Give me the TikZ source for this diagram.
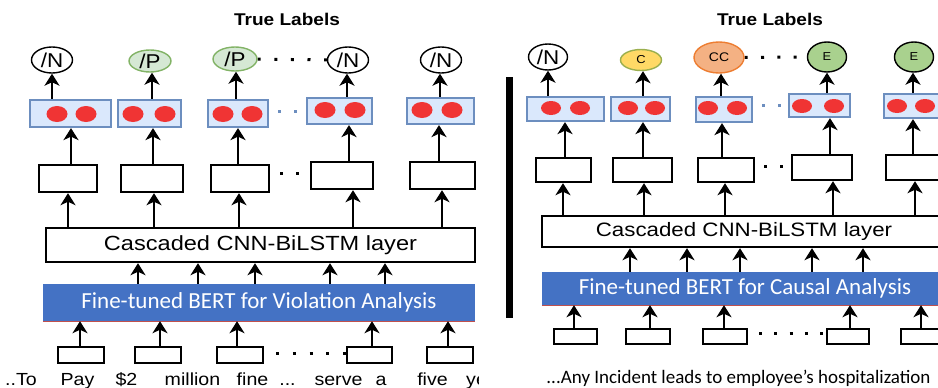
\documentclass[tikz,border=0pt]{standalone}
\usepackage{fontspec}
\setmainfont{Liberation Sans}
\newfontfamily\calibri{Carlito}
\usepackage{graphicx}
\usetikzlibrary{arrows.meta,shapes.geometric}
\pgfdeclarelayer{back}
\pgfsetlayers{back,main}

\definecolor{dotfill}{HTML}{DAE8FC}
\definecolor{dotedge}{HTML}{6C8EBF}
\definecolor{reddot}{HTML}{F03434}
\definecolor{pfill}{HTML}{D5E8D4}
\definecolor{pedge}{HTML}{82B366}
\definecolor{cfill}{HTML}{FFD966}
\definecolor{cedge}{HTML}{9BAF4E}
\definecolor{ccfill}{HTML}{F4B183}
\definecolor{ccedge}{HTML}{ED7D31}
\definecolor{efill}{HTML}{A9D18E}
\definecolor{bertblue}{HTML}{4472C4}
\definecolor{bertline}{HTML}{C0504D}

\newcommand{\fsz}[1]{\fontsize{#1}{#1}\selectfont}
\newcommand{\wide}[1]{\scalebox{1.12}[1]{#1}}
% vertical arrow leaving the top of #1, shifted by #3 from its centre, up to #2
\newcommand{\vup}[3]{\path (#1.north) ++(#3,0) coordinate (vtmp); \draw[arr] (vtmp) -- (vtmp |- #2.south);}

\begin{document}
\begin{tikzpicture}[x=1pt,y=-1pt,
  sz/.style 2 args={minimum width=#1pt,minimum height=#2pt},
  ttl/.style={anchor=base,inner sep=0pt,font=\bfseries\fsz{17}},
  lbl/.style={ellipse,draw=black,line width=1.4pt,fill=white,inner sep=0pt,font=\fsz{20}},
  plbl/.style={lbl,draw=pedge,fill=pfill},
  clbl/.style={lbl,draw=cedge,fill=cfill,font=\fsz{11.5}},
  cclbl/.style={lbl,draw=ccedge,fill=ccfill,font=\fsz{12.5}},
  elbl/.style={lbl,fill=efill,font=\fsz{11.5}},
  dotbox/.style={rectangle,draw=dotedge,fill=dotfill,line width=2.2pt,inner sep=0pt},
  cell/.style={rectangle,draw=black,fill=white,line width=2.4pt,inner sep=0pt},
  layerbox/.style={cell},
  bert/.style={rectangle,fill=bertblue,inner sep=0pt,text=white,font=\calibri\fsz{23}},
  word/.style={anchor=base,inner sep=0pt,font=\fsz{17.5}},
  arr/.style={-{Stealth[length=12pt,width=15pt,inset=3.5pt]},line width=2.6pt},
  kdots/.style 2 args={line width=3pt,dash pattern=on 3pt off #1pt,dash phase=#2pt},
  bdots/.style 2 args={kdots={#1}{#2},draw=dotedge},
]
\useasboundingbox (0,0) rectangle (938,388);

%% ---------------- violation analysis ----------------
\begin{scope}
\clip (0,0) rectangle (478,388);
\node[ttl] (ttlA) at (287,25) {\wide{True Labels}};

\node[lbl,sz={41}{26}]  (lA1) at (52,60)  {\wide{/N}};
\node[plbl,sz={42}{22}] (lA2) at (150,61) {\wide{/P}};
\node[plbl,sz={44}{24}] (lA3) at (235,59) {\wide{/P}};
\node[lbl,sz={41}{26}]  (lA4) at (348,60) {\wide{/N}};
\node[lbl,sz={41}{26}]  (lA5) at (441,60) {\wide{/N}};

\node[dotbox,sz={81}{27}] (dA1) at (70.5,113.5) {};
\node[dotbox,sz={63}{27}] (dA2) at (149.5,113.5) {};
\node[dotbox,sz={60}{27}] (dA3) at (238,113.5) {};
\node[dotbox,sz={65}{26}] (dA4) at (339.5,111) {};
\node[dotbox,sz={67}{26}] (dA5) at (440.5,111) {};
\foreach \x/\y in {57/114,86/114,133/114,165/114,223/114,252/114,325/110,355/110,422/110,452/110}
  \fill[reddot] (\x,\y) ellipse [x radius=10.5pt,y radius=8pt];

\node[cell,sz={58}{27}] (cA1) at (68,178.5) {};
\node[cell,sz={62}{27}] (cA2) at (152,178.5) {};
\node[cell,sz={58}{27}] (cA3) at (240,178.5) {};
\node[cell,sz={62}{27}] (cA4) at (342,175.5) {};
\node[cell,sz={65}{27}] (cA5) at (442.5,175.5) {};

\node[layerbox,sz={429}{34},font=\fsz{20.5}] (nA) at (260.5,245) {\scalebox{1.15}[1]{Cascaded CNN-BiLSTM layer}};
\node[bert,sz={432}{37}] (bA) at (259,302.5) {Fine-tuned BERT for Violation Analysis};
\draw[bertline,line width=1.2pt] ([yshift=-0.6pt]bA.south west) -- ([yshift=-0.6pt]bA.south east);

\node[cell,sz={46}{16}] (tA1) at (81,355) {};
\node[cell,sz={46}{16}] (tA2) at (158,355) {};
\node[cell,sz={46}{16}] (tA3) at (240,355) {};
\node[cell,sz={45}{16}] (tA4) at (369.5,355) {};
\node[cell,sz={46}{16}] (tA5) at (450,355) {};

\node[word] (wA1) at (21,385) {\wide{..To}};
\node[word] (wA2) at (77.5,385) {\wide{Pay}};
\node[word] (wA3) at (126.5,385) {\wide{\$2}};
\node[word] (wA4) at (192.5,385) {\wide{million}};
\node[word] (wA5) at (252.5,385) {\wide{fine}};
\node[word] (wA6) at (287.5,385) {\wide{...}};
\node[word] (wA7) at (338.5,385) {\wide{serve}};
\node[word] (wA8) at (381,385) {\wide{a}};
\node[word] (wA9) at (432.5,385) {\wide{five}};
\node[word,anchor=base west] (wA10) at (466,385) {\wide{ye}};

\vup{tA1}{bA}{-1} \vup{tA2}{bA}{2} \vup{tA3}{bA}{-3} \vup{tA4}{bA}{2.5} \vup{tA5}{bA}{-2}
\vup{bA}{nA}{-121} \vup{bA}{nA}{-61} \vup{bA}{nA}{-4} \vup{bA}{nA}{71} \vup{bA}{nA}{126}
\vup{nA}{cA1}{-192.5} \vup{nA}{cA2}{-106.5} \vup{nA}{cA3}{-21.5} \vup{nA}{cA4}{92.5} \vup{nA}{cA5}{181.5}
\vup{cA1}{dA1}{3} \vup{cA2}{dA2}{1} \vup{cA3}{dA3}{-2} \vup{cA4}{dA4}{7} \vup{cA5}{dA5}{-3.5}
\vup{dA1}{lA1}{-18.5} \vup{dA2}{lA2}{2.5} \vup{dA3}{lA3}{-2} \vup{dA4}{lA4}{7.5} \vup{dA5}{lA5}{-0.5}

\begin{pgfonlayer}{back}
  \draw[kdots={13.6}{0}] (lA3) -- (lA4);
\end{pgfonlayer}
\draw[bdots={13}{7}] (dA4.west -| dA3.east) -- (dA4.west);
\draw[kdots={13}{6}] (cA3.east |- 0,173) -- (cA4.west |- 0,173);
\draw[kdots={13.7}{4.7}] (tA3.east |- 0,353) -- (tA4.west |- 0,353);
\end{scope}

%% ---------------- causal analysis ----------------
\fill (506,77) rectangle (513,318);

\begin{scope}
\clip (480,0) rectangle (938,388);
\node[ttl] (ttlB) at (770,25) {\wide{True Labels}};

\node[lbl,sz={39}{26}]   (lB1) at (548,57)   {\wide{/N}};
\node[clbl,sz={41}{21}]  (lB2) at (641,60)   {\wide{C}};
\node[cclbl,sz={50}{31}] (lB3) at (719,57.5) {\wide{CC}};
\node[elbl,sz={39}{30}]  (lB4) at (827,57)   {\wide{E}};
\node[elbl,sz={39}{30}]  (lB5) at (914,57)   {\wide{E}};

\node[dotbox,sz={77}{24}] (dB1) at (565.5,109) {};
\node[dotbox,sz={59}{24}] (dB2) at (640.5,109) {};
\node[dotbox,sz={56}{25}] (dB3) at (724,109.5) {};
\node[dotbox,sz={61}{23}] (dB4) at (819.5,105.5) {};
\node[dotbox,sz={64}{24}] (dB5) at (916,106) {};
\foreach \x/\y in {551/108,580/108,628/108,655/108,708/108,737/108,802/106,834/106,897/106,925/106}
  \fill[reddot] (\x,\y) ellipse [x radius=10pt,y radius=7pt];

\node[cell,sz={55}{24}] (cB1) at (563.5,170) {};
\node[cell,sz={59}{24}] (cB2) at (642.5,170) {};
\node[cell,sz={56}{24}] (cB3) at (726,170) {};
\node[cell,sz={60}{25}] (cB4) at (822,167.5) {};
\node[cell,sz={60}{25}] (cB5) at (916,167.5) {};

\node[layerbox,sz={404}{31},font=\fsz{19.4}] (nB) at (744,231.5) {\scalebox{1.15}[1]{Cascaded CNN-BiLSTM layer}};
\node[bert,sz={406}{33}] (bB) at (745,288.5) {Fine-tuned BERT for Causal Analysis};
\draw[bertline,line width=1.2pt] ([yshift=-0.6pt]bB.south west) -- ([yshift=-0.6pt]bB.south east);

\node[cell,sz={43}{15}] (tB1) at (575.5,336.5) {};
\node[cell,sz={44}{15}] (tB2) at (648,336.5) {};
\node[cell,sz={44}{15}] (tB3) at (725,336.5) {};
\node[cell,sz={42}{15}] (tB4) at (848,336.5) {};
\node[cell,sz={44}{15}] (tB5) at (923,336.5) {};

\node[anchor=base,inner sep=0pt,font=\calibri\fsz{19}] (sB) at (738.5,383)
  {...Any Incident leads to employee’s hospitalization};

\vup{tB1}{bB}{-1.5} \vup{tB2}{bB}{2} \vup{tB3}{bB}{-1} \vup{tB4}{bB}{2} \vup{tB5}{bB}{-2}
\vup{bB}{nB}{-115} \vup{bB}{nB}{-58} \vup{bB}{nB}{-5} \vup{bB}{nB}{67} \vup{bB}{nB}{118}
\vup{nB}{cB1}{-181} \vup{nB}{cB2}{-100} \vup{nB}{cB3}{-19} \vup{nB}{cB4}{89} \vup{nB}{cB5}{171}
\vup{cB1}{dB1}{1.5} \vup{cB2}{dB2}{0.5} \vup{cB3}{dB3}{-4} \vup{cB4}{dB4}{8} \vup{cB5}{dB5}{-3}
\vup{dB1}{lB1}{-17.5} \vup{dB2}{lB2}{2.5} \vup{dB3}{lB3}{-3} \vup{dB4}{lB4}{7.5} \vup{dB5}{lB5}{-3}

\begin{pgfonlayer}{back}
  \draw[kdots={13.3}{0}] (lB3) -- (lB4);
\end{pgfonlayer}
\draw[bdots={13}{7}] (dB4.west -| dB3.east) -- (dB4.west);
\draw[kdots={13}{7}] (cB3.east |- 0,166) -- (cB4.west |- 0,166);
\draw[kdots={12.2}{4.2}] (tB3.east |- 0,333) -- (tB4.west |- 0,333);
\end{scope}
\end{tikzpicture}
\end{document}
